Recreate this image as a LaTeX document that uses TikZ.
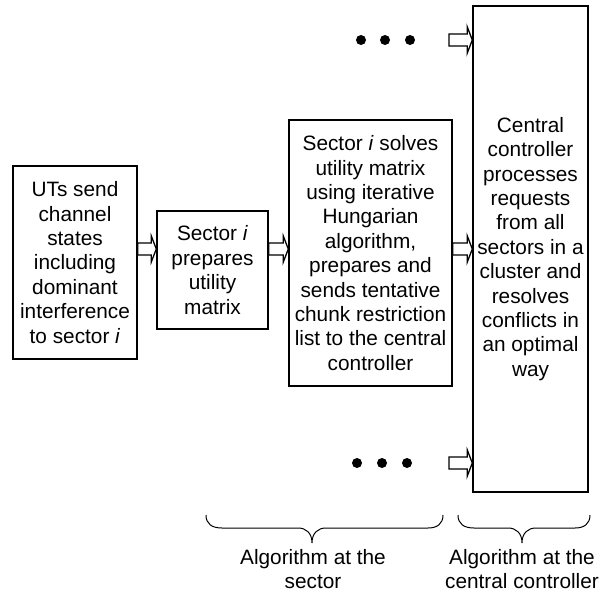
\documentclass[tikz,border=0pt]{standalone}
\usepackage{fontspec}
\setmainfont{Liberation Sans}
\usetikzlibrary{calc}
\newcommand\blockarr[2]{\path[blk] let \p1=(#1), \p2=(#2) in
  (\x1,{\y1+6pt}) -- ({\x2-5pt},{\y1+6pt}) -- ({\x2-5pt},{\y1+13pt}) -- (\x2,\y1)
  -- ({\x2-5pt},{\y1-13pt}) -- ({\x2-5pt},{\y1-6pt}) -- (\x1,{\y1-6pt}) -- cycle;}
\begin{document}
\begin{tikzpicture}[x=1pt,y=-1pt,
  box/.style={draw, line width=1.4pt, align=center, inner sep=0pt, font=\fontsize{20.8}{24.4}\selectfont},
  blk/.style={draw, line width=1.3pt, fill=white, line join=miter},
  brc/.style={draw, line width=1pt},
  lbl/.style={align=center, inner sep=0pt, font=\fontsize{20.8}{24.4}\selectfont}]
\useasboundingbox (0,0) rectangle (608,594);

\node[box, minimum width=124pt, minimum height=193pt] (b1) at (75,262.5)
  {UTs send\\channel\\states\\including\\dominant\\interference\\to sector \textit{i}};
\node[box, minimum width=111pt, minimum height=118pt] (b2) at (212.5,270)
  {Sector \textit{i}\\prepares\\utility\\matrix};
\node[box, minimum width=163pt, minimum height=266pt] (b3) at (370.5,253)
  {Sector \textit{i} solves\\utility matrix\\using iterative\\Hungarian\\algorithm,\\prepares and\\sends tentative\\chunk restriction\\list to the central\\controller};
\node[box, minimum width=115pt, minimum height=486pt] (b4) at (530.5,249)
  {Central\\controller\\processes\\requests\\from all\\sectors in a\\cluster and\\resolves\\conflicts in\\an optimal\\way};

\coordinate (r) at (0,249);
\blockarr{b1.east |- r}{b2.west |- r}
\blockarr{b2.east |- r}{b3.west |- r}
\blockarr{b3.east |- r}{b4.west |- r}

\coordinate (ts) at (449,40);
\coordinate (bs) at (449,463);
\blockarr{ts}{b4.west |- ts}
\blockarr{bs}{b4.west |- bs}

\foreach \x in {361,385,410} \fill (\x,40) circle (5pt);
\foreach \x in {357,382,407} \fill (\x,463) circle (5pt);

\path[brc] (206,515) .. controls (206,524) and (212,528) .. (222,528) -- (298,528)
  .. controls (306,528) and (312,533) .. (312,543)
  .. controls (312,533) and (318,528) .. (326,528) -- (428,528)
  .. controls (437,528) and (443,524) .. (443,515);
\path[brc] (458,515) .. controls (458,524) and (464,528) .. (474,528) -- (508,528)
  .. controls (516,528) and (522,533) .. (522,543)
  .. controls (522,533) and (528,528) .. (536,528) -- (575,528)
  .. controls (584,528) and (590,524) .. (590,515);

\node[lbl] (l1) at (313,569) {Algorithm at the\\sector};
\node[lbl] (l2) at (522,569) {Algorithm at the\\central controller};
\end{tikzpicture}
\end{document}
